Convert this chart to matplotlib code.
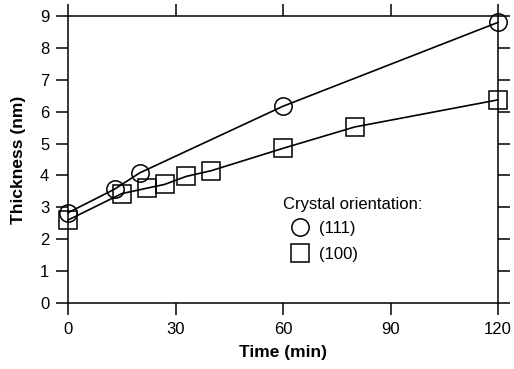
import matplotlib
matplotlib.use("Agg")
from matplotlib import pyplot as plt
from matplotlib.lines import Line2D

plt.rcParams["font.family"] = ["Liberation Sans", "DejaVu Sans"]

# oxide thickness vs. time for two crystal orientations
time_111 = [0, 13, 20, 60, 120]
thick_111 = [2.83, 3.57, 4.08, 6.17, 8.8]
time_100 = [0, 15, 22, 27, 33, 40, 60, 80, 120]
thick_100 = [2.6, 3.43, 3.6, 3.72, 3.97, 4.15, 4.85, 5.52, 6.37]

x_ticks = [0, 30, 60, 90, 120]
y_ticks = list(range(10))

W, H = 514, 369
fig = plt.figure(figsize=(W / 100, H / 100), dpi=100, facecolor="white")
ax = fig.add_axes([68 / W, 1 - 303 / H, 430 / W, 287 / H])

style = dict(color="black", lw=1.2, markerfacecolor="none",
             markeredgecolor="black", markeredgewidth=1.1, clip_on=False)
ax.plot(time_111, thick_111, marker="o", markersize=12.5, **style)
ax.plot(time_100, thick_100, marker="s", markersize=12.5, **style)

ax.set_xlim(0, 120)
ax.set_ylim(0, 9)
ax.set_xticks(x_ticks)
ax.set_yticks(y_ticks)
ax.tick_params(direction="out", length=8.5, width=1.1, labelsize=12,
               top=True, right=True, pad=5, colors="black")
for s in ax.spines.values():
    s.set_linewidth(1.1)

ax.set_xlabel("Time (min)", fontsize=12.5, fontweight="bold", labelpad=6)
ax.set_ylabel("Thickness (nm)", fontsize=12.5, fontweight="bold", labelpad=10)

# legend: title as plain text, entries indented under it
fig.text(283 / W, 1 - 204 / H, "Crystal orientation:", fontsize=12,
         ha="left", va="center")
handles = [
    Line2D([], [], ls="none", marker="o", markersize=12.5,
           markerfacecolor="none", markeredgecolor="black", markeredgewidth=1.1),
    Line2D([], [], ls="none", marker="s", markersize=12.5,
           markerfacecolor="none", markeredgecolor="black", markeredgewidth=1.1),
]
fig.legend(handles, ["(111)", "(100)"], loc="upper left",
           bbox_to_anchor=(292 / W, 1 - 221 / H), frameon=False,
           fontsize=12, handlelength=1.0, handletextpad=0.6,
           labelspacing=0.65, borderpad=0, borderaxespad=0)

fig.savefig("out.png", dpi=100, facecolor="white")
